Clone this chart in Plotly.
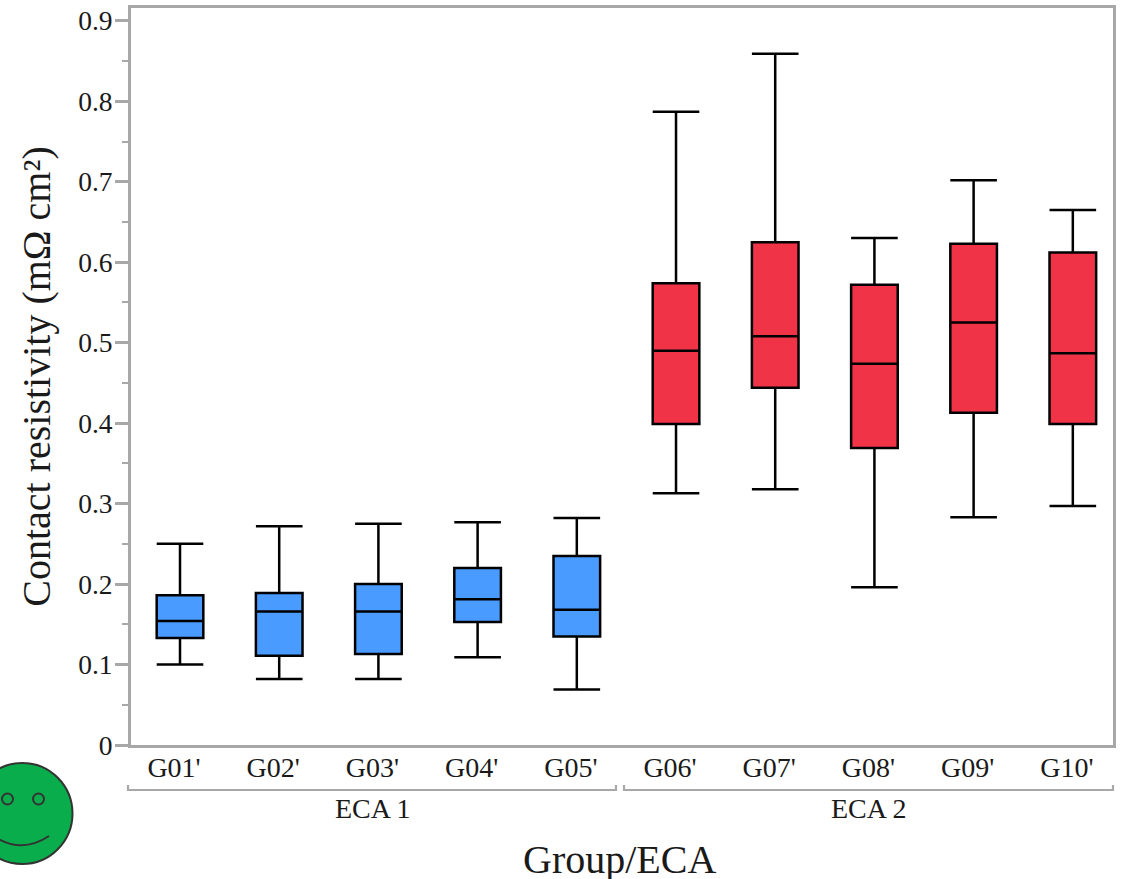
import plotly.graph_objects as go

groups_1 = ["G01'", "G02'", "G03'", "G04'", "G05'"]
low_1 = [0.100, 0.082, 0.082, 0.109, 0.069]
q1_1 = [0.133, 0.111, 0.113, 0.153, 0.135]
med_1 = [0.154, 0.166, 0.166, 0.181, 0.168]
q3_1 = [0.186, 0.189, 0.200, 0.220, 0.235]
high_1 = [0.250, 0.272, 0.275, 0.277, 0.282]

groups_2 = ["G06'", "G07'", "G08'", "G09'", "G10'"]
low_2 = [0.313, 0.318, 0.196, 0.283, 0.297]
q1_2 = [0.399, 0.444, 0.369, 0.413, 0.399]
med_2 = [0.490, 0.508, 0.474, 0.525, 0.487]
q3_2 = [0.574, 0.625, 0.572, 0.623, 0.612]
high_2 = [0.787, 0.859, 0.630, 0.702, 0.665]

y_ticks = [0, 0.1, 0.2, 0.3, 0.4, 0.5, 0.6, 0.7, 0.8, 0.9]
y_labels = ["0", "0.1", "0.2", "0.3", "0.4", "0.5", "0.6", "0.7", "0.8", "0.9"]

W, H = 1129, 879
L, R, T, B = 131, 1113, 8, 745
SERIF = "Liberation Serif, Times New Roman, serif"
GRAY = "#a8a8a8"
INK = "#1a1a1a"


def px(x):
    return (x - L) / (R - L)


def py(y):
    return (B - y) / (B - T)


fig = go.Figure()
for name, cats, lo, q1, med, q3, hi, color in [
    ("ECA 1", groups_1, low_1, q1_1, med_1, q3_1, high_1, "#4a9bff"),
    ("ECA 2", groups_2, low_2, q1_2, med_2, q3_2, high_2, "#f03347"),
]:
    fig.add_trace(go.Box(
        name=name, x=cats, lowerfence=lo, q1=q1, median=med, q3=q3, upperfence=hi,
        fillcolor=color, line=dict(color="#000000", width=2.5),
        width=0.47, whiskerwidth=1, boxpoints=False, showlegend=False,
    ))

shapes = []
# group brackets
for x0, x1 in [(128, 616), (624, 1113)]:
    shapes.append(dict(
        type="path", xref="paper", yref="paper",
        path=f"M {px(x0)} {py(785)} L {px(x0)} {py(790)} L {px(x1)} {py(790)} L {px(x1)} {py(785)}",
        line=dict(color=GRAY, width=2.2),
    ))
# smiley
OUT = "#333333"
shapes.append(dict(type="circle", xref="paper", yref="paper",
                   x0=px(-28), x1=px(72.5), y0=py(864), y1=py(763),
                   fillcolor="#0aad4b", line=dict(color=OUT, width=2)))
for ex in (7.5, 38.5):
    shapes.append(dict(type="circle", xref="paper", yref="paper",
                       x0=px(ex - 5.5), x1=px(ex + 5.5), y0=py(804.5), y1=py(793.5),
                       fillcolor="#0aad4b", line=dict(color=OUT, width=2)))
shapes.append(dict(type="path", xref="paper", yref="paper",
                   path=f"M {px(-5)} {py(837)} Q {px(22)} {py(854)} {px(49)} {py(836)}",
                   line=dict(color=OUT, width=2)))

annotations = [
    dict(text="ECA 1", x=px(372), y=py(808), xref="paper", yref="paper", showarrow=False,
         xanchor="center", yanchor="middle", font=dict(family=SERIF, size=28, color=INK)),
    dict(text="ECA 2", x=px(868.5), y=py(808), xref="paper", yref="paper", showarrow=False,
         xanchor="center", yanchor="middle", font=dict(family=SERIF, size=28, color=INK)),
    dict(text="Group/ECA", x=px(619.5), y=py(859), xref="paper", yref="paper", showarrow=False,
         xanchor="center", yanchor="middle", font=dict(family=SERIF, size=40, color=INK)),
]

fig.update_layout(
    width=W, height=H,
    margin=dict(l=L, r=W - R, t=T, b=H - B),
    paper_bgcolor="white", plot_bgcolor="white",
    shapes=shapes, annotations=annotations, boxmode="overlay",
    xaxis=dict(
        type="category", categoryorder="array", categoryarray=groups_1 + groups_2,
        range=[-0.494, 9.405], showgrid=False, zeroline=False, automargin=False,
        showline=True, mirror=True, linecolor=GRAY, linewidth=3, ticks="",
        tickfont=dict(family=SERIF, size=28, color=INK),
        ticklabelshift=-6, ticklabelstandoff=-5,
    ),
    yaxis=dict(
        range=[0, 0.916], tickmode="array", tickvals=y_ticks, ticktext=y_labels,
        showgrid=False, zeroline=False, automargin=False,
        showline=True, mirror=True, linecolor=GRAY, linewidth=3,
        ticks="outside", ticklen=13, tickwidth=2.5, tickcolor=GRAY,
        minor=dict(dtick=0.05, ticks="outside", ticklen=6, tickwidth=2, tickcolor=GRAY, showgrid=False),
        tickfont=dict(family=SERIF, size=27.5, color=INK),
        ticklabelstandoff=-3,
        title=dict(text="Contact resistivity (mΩ cm²)", font=dict(family=SERIF, size=40, color=INK), standoff=16),
    ),
)

fig.write_html("out.html", config={"displayModeBar": False},
               post_script="document.body.style.margin='0';")
